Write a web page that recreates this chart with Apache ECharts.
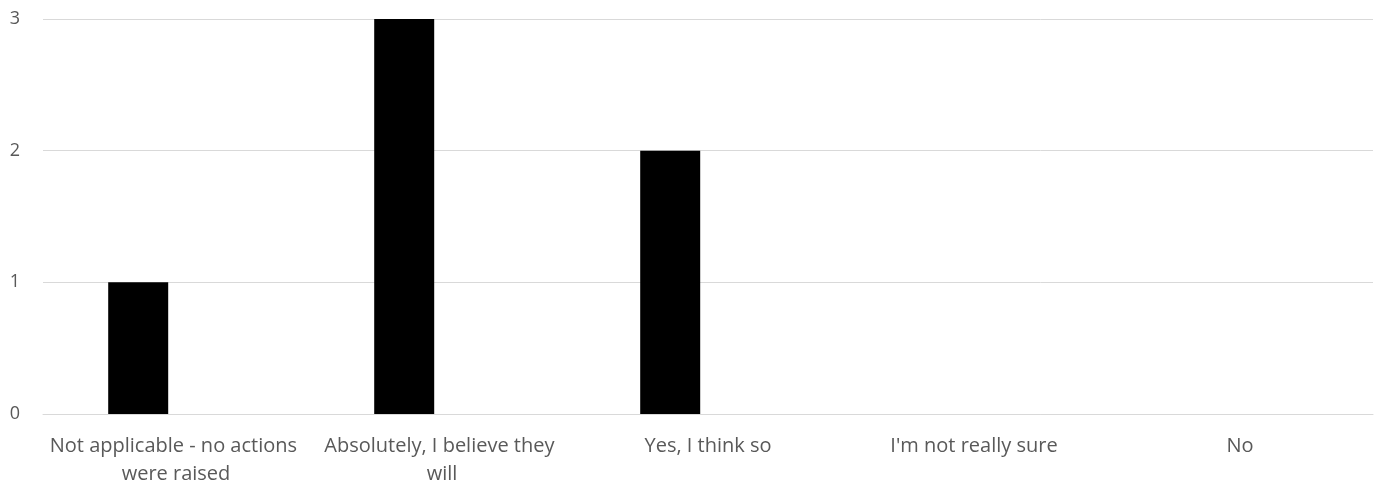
<!DOCTYPE html>
<html>
<head>
<meta charset="utf-8">
<script src="https://cdn.jsdelivr.net/npm/echarts@6/dist/echarts.min.js"></script>
<style>
  html, body { margin: 0; padding: 0; background: #ffffff; }
  #chart { width: 1397px; height: 488px; }
</style>
</head>
<body>
<div id="chart"></div>
<script>
// Survey answers and response counts
const categories = [
  "Not applicable - no actions were raised",
  "Absolutely, I believe they will",
  "Yes, I think so",
  "I'm not really sure",
  "No"
];
const responses = [1, 3, 2, 0, 0];
const secondSeries = [0, 0, 0, 0, 0];
const yTicks = [0, 1, 2, 3];

const chart = echarts.init(document.getElementById('chart'));
chart.setOption({
  animation: false,
  backgroundColor: '#ffffff',
  grid: { left: 43, right: 24, top: 19, bottom: 74 },
  xAxis: {
    type: 'category',
    data: categories,
    axisLine: { show: true, lineStyle: { color: '#d9d9d9', width: 1 } },
    axisTick: { show: false },
    axisLabel: {
      color: '#595959',
      fontFamily: 'Open Sans',
      fontSize: 20,
      interval: 0,
      margin: 18,
      width: 262,
      overflow: 'break',
      lineHeight: 28
    }
  },
  yAxis: {
    type: 'value',
    min: yTicks[0],
    max: yTicks[yTicks.length - 1],
    interval: 1,
    axisLine: { show: false },
    axisTick: { show: false },
    splitLine: { lineStyle: { color: '#d9d9d9', width: 1 } },
    axisLabel: {
      color: '#595959',
      fontFamily: 'Open Sans',
      fontSize: 18,
      margin: 23
    }
  },
  series: [
    {
      type: 'bar',
      data: responses,
      barWidth: 60,
      barGap: '26%',
      itemStyle: { color: '#000000' }
    },
    {
      type: 'bar',
      data: secondSeries,
      barWidth: 60,
      itemStyle: { color: '#000000' }
    }
  ]
});
</script>
</body>
</html>
